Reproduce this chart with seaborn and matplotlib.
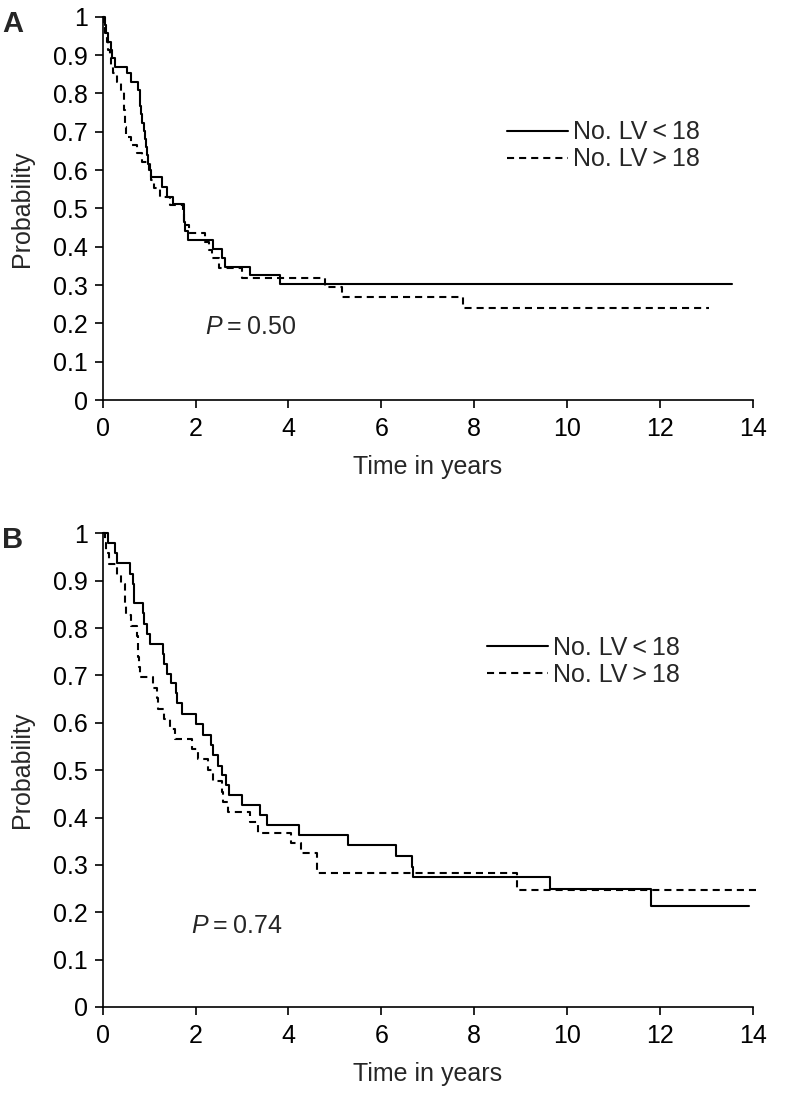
import numpy as np
import pandas as pd
import matplotlib
matplotlib.use("Agg")
import matplotlib.pyplot as plt
from matplotlib.lines import Line2D
import seaborn as sns

# ---------------- data ----------------
# Panel A: No. LV < 18 (solid)
a_lo_t = [0, 0.04, 0.08, 0.12, 0.17, 0.21, 0.26, 0.52, 0.61, 0.77, 0.80, 0.81, 0.83, 0.85,
          0.88, 0.92, 0.93, 0.95, 0.97, 1.00, 1.05, 1.27, 1.38, 1.52, 1.75, 1.76, 1.77, 1.84,
          2.38, 2.58, 2.63, 3.17, 3.81, 13.55]
a_lo_s = [1.0, 0.978, 0.957, 0.935, 0.913, 0.891, 0.870, 0.852, 0.830, 0.809, 0.787, 0.766,
          0.745, 0.723, 0.702, 0.681, 0.660, 0.638, 0.617, 0.600, 0.581, 0.556, 0.530, 0.511,
          0.490, 0.465, 0.440, 0.417, 0.393, 0.370, 0.348, 0.326, 0.303, 0.303]
# Panel A: No. LV > 18 (dashed)
a_hi_t = [0, 0.03, 0.06, 0.09, 0.12, 0.15, 0.18, 0.22, 0.30, 0.40, 0.45, 0.46, 0.47, 0.48,
          0.50, 0.62, 0.73, 0.84, 1.02, 1.04, 1.10, 1.23, 1.45, 1.73, 1.76, 1.86, 2.20, 2.30,
          2.36, 2.50, 3.00, 4.78, 5.16, 7.76, 13.06]
a_hi_s = [1.0, 0.978, 0.957, 0.935, 0.913, 0.891, 0.870, 0.852, 0.830, 0.804, 0.780, 0.757,
          0.735, 0.713, 0.687, 0.665, 0.644, 0.622, 0.600, 0.575, 0.553, 0.530, 0.509, 0.487,
          0.457, 0.435, 0.413, 0.392, 0.370, 0.344, 0.318, 0.294, 0.268, 0.239, 0.239]

# Panel B: No. LV < 18 (solid)
b_lo_t = [0, 0.11, 0.26, 0.31, 0.59, 0.66, 0.67, 0.68, 0.87, 0.90, 0.95, 1.02, 1.29, 1.31,
          1.38, 1.48, 1.58, 1.60, 1.70, 2.01, 2.15, 2.34, 2.37, 2.49, 2.58, 2.65, 2.72, 2.99,
          3.38, 3.54, 4.23, 5.28, 6.31, 6.66, 6.68, 9.64, 11.81, 13.92]
b_lo_s = [1.0, 0.979, 0.958, 0.937, 0.915, 0.894, 0.873, 0.852, 0.831, 0.809, 0.788, 0.767,
          0.746, 0.725, 0.704, 0.683, 0.662, 0.641, 0.619, 0.597, 0.575, 0.553, 0.532, 0.509,
          0.489, 0.468, 0.447, 0.426, 0.405, 0.384, 0.363, 0.341, 0.318, 0.296, 0.274, 0.249,
          0.213, 0.213]
# Panel B: No. LV > 18 (dashed)
b_hi_t = [0, 0.05, 0.08, 0.14, 0.30, 0.40, 0.48, 0.49, 0.50, 0.62, 0.73, 0.75, 0.77, 0.78,
          0.80, 1.09, 1.17, 1.20, 1.32, 1.45, 1.55, 1.92, 2.06, 2.27, 2.38, 2.57, 2.60, 2.70,
          3.17, 3.35, 4.06, 4.27, 4.61, 4.62, 8.92, 14.15]
b_hi_s = [1.0, 0.979, 0.958, 0.936, 0.913, 0.892, 0.870, 0.849, 0.827, 0.804, 0.783, 0.761,
          0.739, 0.718, 0.696, 0.674, 0.652, 0.630, 0.607, 0.586, 0.565, 0.544, 0.523, 0.500,
          0.477, 0.454, 0.433, 0.412, 0.391, 0.368, 0.347, 0.326, 0.304, 0.282, 0.247, 0.247]

panels = ["A", "B"]
series_labels = ["No. LV\u2009<\u200918", "No. LV\u2009>\u200918"]
p_texts = ["0.50", "0.74"]
x_ticks = [0, 2, 4, 6, 8, 10, 12, 14]
y_ticks = [0, 0.1, 0.2, 0.3, 0.4, 0.5, 0.6, 0.7, 0.8, 0.9, 1.0]
y_ticklabels = ["0", "0.1", "0.2", "0.3", "0.4", "0.5", "0.6", "0.7", "0.8", "0.9", "1"]

# ---------------- style ----------------
sns.set_theme(style="ticks")
FAM = ["Liberation Sans", "DejaVu Sans"]
plt.rcParams["font.family"] = FAM
plt.rcParams["mathtext.fontset"] = "custom"
plt.rcParams["mathtext.it"] = "Liberation Sans:italic"
plt.rcParams["mathtext.rm"] = "Liberation Sans"

FS = 18
W, H = 786, 1093
fig = plt.figure(figsize=(W / 100, H / 100), dpi=100)

def px_axes(left, top, right, bottom):
    return [left / W, 1 - bottom / H, (right - left) / W, (bottom - top) / H]

ax_a = fig.add_axes(px_axes(102.7, 16.7, 752.7, 400))
ax_b = fig.add_axes(px_axes(102.7, 533.3, 752.7, 1007))

dash = (0, (3.4, 2.4))
LW = 1.5

data_sets = [
    (ax_a, a_lo_t, a_lo_s, a_hi_t, a_hi_s),
    (ax_b, b_lo_t, b_lo_s, b_hi_t, b_hi_s),
]
legend_pos = [(0.622, 0.663), (0.591, 0.729)]
p_pos = [(2.2, 0.19), (1.9, 0.17)]
letter_y = [10, 526]

for i, (ax, lt, ls, ht, hs) in enumerate(data_sets):
    df_lo = pd.DataFrame({"t": lt, "s": ls})
    df_hi = pd.DataFrame({"t": ht, "s": hs})
    sns.lineplot(data=df_lo, x="t", y="s", ax=ax, color="black", lw=LW,
                 drawstyle="steps-post", estimator=None, sort=False, clip_on=False)
    sns.lineplot(data=df_hi, x="t", y="s", ax=ax, color="black", lw=LW,
                 linestyle=dash, drawstyle="steps-post", estimator=None, sort=False,
                 clip_on=False)
    ax.set_xlim(0, 14)
    ax.set_ylim(0, 1)
    ax.set_xticks(x_ticks)
    ax.set_xticklabels([str(v) for v in x_ticks])
    ax.set_yticks(y_ticks)
    ax.set_yticklabels(y_ticklabels)
    ax.tick_params(direction="out", length=5.5, width=1.2, labelsize=FS, colors="black")
    ax.tick_params(axis="x", pad=7)
    ax.tick_params(axis="y", pad=5)
    for side in ["top", "right"]:
        ax.spines[side].set_visible(False)
    for side in ["left", "bottom"]:
        ax.spines[side].set_linewidth(1.2)
        ax.spines[side].set_color("black")
    ax.set_xlabel("Time in years", fontsize=FS, labelpad=10)
    ax.set_ylabel("Probability", fontsize=FS, labelpad=14)
    handles = [Line2D([], [], color="black", lw=LW),
               Line2D([], [], color="black", lw=LW, linestyle=dash)]
    ax.legend(handles, series_labels, loc="center left", bbox_to_anchor=legend_pos[i],
              frameon=False, fontsize=FS, handlelength=2.45, handletextpad=0.2,
              labelspacing=0.12, borderpad=0, borderaxespad=0)
    ax.text(p_pos[i][0], p_pos[i][1], r"$P$" + "\u2009=\u2009" + p_texts[i],
            fontsize=FS, va="center", ha="left")
    fig.text(2 / W, 1 - letter_y[i] / H, panels[i], fontsize=21, fontweight="bold",
             va="top", ha="left")

fig.savefig("out.png", dpi=100)
